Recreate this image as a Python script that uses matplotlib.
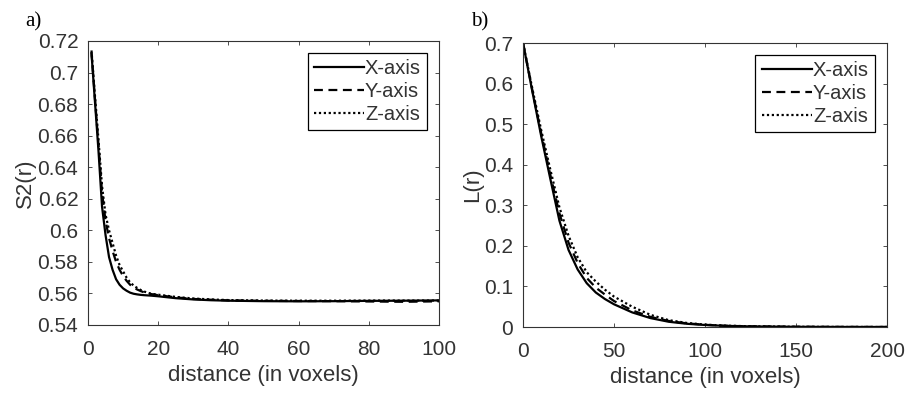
import numpy as np
import matplotlib
matplotlib.use("Agg")
import matplotlib.pyplot as plt

############################################
# data  a) S2(r)
############################################

r_s2 = [1, 2, 3, 4, 5, 6, 7, 8, 9, 10, 11, 12, 13, 14, 15, 16, 18, 20,
        25, 30, 35, 40, 50, 60, 70, 80, 90, 100]

s2_x = [0.712, 0.681, 0.650, 0.615, 0.597, 0.583, 0.575, 0.569, 0.5655, 0.5632,
        0.5617, 0.5605, 0.5598, 0.5594, 0.5591, 0.5589, 0.5586, 0.5582,
        0.5570, 0.5562, 0.5557, 0.5554, 0.5551, 0.5550, 0.5551, 0.5553, 0.5554, 0.5556]

s2_y = [0.713, 0.683, 0.654, 0.624, 0.606, 0.595, 0.587, 0.580, 0.575, 0.571,
        0.568, 0.5655, 0.5638, 0.5625, 0.5615, 0.5607, 0.5596, 0.5589,
        0.5575, 0.5565, 0.5560, 0.5556, 0.5553, 0.5552, 0.5551, 0.5549, 0.5547, 0.5550]

s2_z = [0.714, 0.685, 0.657, 0.628, 0.610, 0.600, 0.592, 0.584, 0.578, 0.574,
        0.570, 0.567, 0.5650, 0.5635, 0.5622, 0.5612, 0.5598, 0.5592,
        0.5578, 0.5568, 0.5562, 0.5558, 0.5555, 0.5554, 0.5554, 0.5555, 0.5555, 0.5555]

############################################
# data  b) L(r)
############################################

r_l = [0, 5, 10, 15, 20, 25, 30, 35, 40, 45, 50, 60, 70, 80, 90, 100,
       110, 125, 150, 175, 200]

l_x = [0.700, 0.583, 0.470, 0.365, 0.262, 0.190, 0.142, 0.108, 0.085, 0.069,
       0.056, 0.036, 0.022, 0.013, 0.008, 0.005, 0.003, 0.0015, 0.0005, 0.0002, 0.0001]

l_y = [0.700, 0.586, 0.477, 0.375, 0.280, 0.208, 0.158, 0.121, 0.097, 0.080,
       0.064, 0.041, 0.025, 0.015, 0.009, 0.0055, 0.0032, 0.0016, 0.0005, 0.0002, 0.0001]

l_z = [0.700, 0.590, 0.485, 0.388, 0.295, 0.225, 0.172, 0.135, 0.112, 0.092,
       0.075, 0.050, 0.030, 0.017, 0.010, 0.006, 0.0035, 0.0018, 0.0006, 0.0002, 0.0001]

labels = ["X-axis", "Y-axis", "Z-axis"]

############################################
# plot
############################################

plt.rcParams["font.family"] = ["Liberation Sans", "DejaVu Sans"]
axcol = "#333333"

fig = plt.figure(figsize=(9.09, 3.96), dpi=100)

ax1 = fig.add_axes([0.0968, 0.1793, 0.3862, 0.7172])
ax2 = fig.add_axes([0.5754, 0.1742, 0.4004, 0.7172])

styles = ["-", (0, (4, 2.5)), (0, (1, 1.2))]

for ax, r, ys in [(ax1, r_s2, [s2_x, s2_y, s2_z]), (ax2, r_l, [l_x, l_y, l_z])]:
    for y, ls, lab in zip(ys, styles, labels):
        ax.plot(r, y, color="black", linestyle=ls, linewidth=1.6, label=lab)

    for s in ax.spines.values():
        s.set_color(axcol)
        s.set_linewidth(0.8)
    ax.tick_params(direction="in", top=True, right=True, length=3, width=0.6,
                   colors=axcol, labelsize=15)
    ax.tick_params(axis="x", pad=11)
    ax.tick_params(axis="y", pad=7)

    leg = ax.legend(loc="upper right", fancybox=False, framealpha=1,
                    edgecolor="black", fontsize=14.5, handlelength=2.5,
                    handletextpad=0.05, labelspacing=0.2, borderpad=0.3,
                    borderaxespad=0.6)
    leg.get_frame().set_linewidth(0.9)
    for t in leg.get_texts():
        t.set_color(axcol)

ax1.set_xlim(0, 100)
ax1.set_ylim(0.54, 0.72)
ax1.set_xticks([0, 20, 40, 60, 80, 100])
ax1.set_yticks(np.arange(0.54, 0.7201, 0.02))
ax1.set_yticklabels(["0.54", "0.56", "0.58", "0.6", "0.62", "0.64", "0.66",
                     "0.68", "0.7", "0.72"])
ax1.set_xlabel("distance (in voxels)", fontsize=16, color=axcol, labelpad=4)
ax1.set_ylabel("S2(r)", fontsize=16, color=axcol, labelpad=1)

ax2.set_xlim(0, 200)
ax2.set_ylim(0, 0.7)
ax2.set_xticks([0, 50, 100, 150, 200])
ax2.set_yticks(np.arange(0, 0.701, 0.1))
ax2.set_yticklabels(["0", "0.1", "0.2", "0.3", "0.4", "0.5", "0.6", "0.7"])
ax2.set_xlabel("distance (in voxels)", fontsize=16, color=axcol, labelpad=4)
ax2.set_ylabel("L(r)", fontsize=16, color=axcol, labelpad=1)

fig.text(0.028, 0.97, "a)", family=["Liberation Serif", "DejaVu Serif"],
         fontsize=15, va="top")
fig.text(0.518, 0.97, "b)", family=["Liberation Serif", "DejaVu Serif"],
         fontsize=15, va="top")

fig.savefig("out.png", dpi=100)
